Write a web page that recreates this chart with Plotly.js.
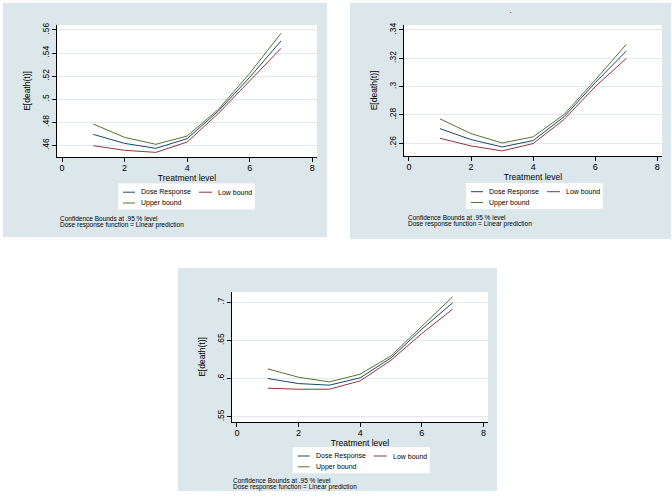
<!DOCTYPE html>
<html>
<head>
<meta charset="utf-8">
<script src="https://cdn.plot.ly/plotly-3.0.1.min.js"></script>
<style>
  body { margin: 0; background: #ffffff; }
  #page { position: relative; width: 672px; height: 497px; }
  .panel { position: absolute; }
</style>
</head>
<body>
<div id="page">
  <div id="panel1" class="panel" style="left:3px; top:3px; width:324px; height:234px;"></div>
  <div id="panel2" class="panel" style="left:350px; top:3px; width:321px; height:236px;"></div>
  <div id="panel3" class="panel" style="left:178px; top:268px; width:319px; height:223px;"></div>
</div>
<script>
// Данные
const treatLevels = [1, 2, 3, 4, 5, 6, 7];
const seriesNames = ["Dose Response", "Low bound", "Upper bound"];

// верхний левый график
const dose1 = [0.4695, 0.4617, 0.4574, 0.4658, 0.4898, 0.5190, 0.5505];
const low1 = [0.4597, 0.4557, 0.4539, 0.4629, 0.4877, 0.5161, 0.5441];
const up1 = [0.4785, 0.4669, 0.4609, 0.4681, 0.4912, 0.5224, 0.5571];

// верхний правый график
const dose2 = [0.2703, 0.2626, 0.2574, 0.2619, 0.2788, 0.3028, 0.3251];
const low2 = [0.2635, 0.2581, 0.2546, 0.2598, 0.2769, 0.3000, 0.3199];
const up2 = [0.2772, 0.2668, 0.2602, 0.2645, 0.2804, 0.3047, 0.3298];

// нижний график
const dose3 = [0.6000, 0.5934, 0.5913, 0.6009, 0.6271, 0.6647, 0.6992];
const low3 = [0.5873, 0.5860, 0.5860, 0.5969, 0.6240, 0.6590, 0.6909];
const up3 = [0.6127, 0.6017, 0.5956, 0.6057, 0.6297, 0.6690, 0.7071];

const xTicks = [0, 2, 4, 6, 8];
const yTicks1 = [0.46, 0.48, 0.5, 0.52, 0.54, 0.56];
const yLabels1 = [".46", ".48", ".5", ".52", ".54", ".56"];
const yTicks2 = [0.26, 0.28, 0.3, 0.32, 0.34];
const yLabels2 = [".26", ".28", ".3", ".32", ".34"];
const yTicks3 = [0.55, 0.6, 0.65, 0.7];
const yLabels3 = [".55", ".6", ".65", ".7"];

const noteLines = [
  "Confidence Bounds at .95 % level",
  "Dose response function = Linear prediction",
];

// Стиль
const FONT = "Liberation Sans, Arial, sans-serif";
const PANEL_BG = "#dce7eb";
const GRID_COLOR = "#e2e9ec";
const lineColors = ["#1a476f", "#90353b", "#55752f"];

// Раскладка легенды в стиле Stata (смещения в пикселях от левого верхнего угла рамки)
const LEGEND_W = 137;
const LEGEND_H = 26;
const legendSlots = [
  { x0: 5, x1: 17, tx: 22, y: 8.7 },   // Dose Response
  { x0: 81, x1: 94, tx: 99, y: 8.7 },  // Low bound
  { x0: 5, x1: 17, tx: 22, y: 19.5 },  // Upper bound
];

/**
 * Перевод пикселей панели в координаты paper
 */
function toPaper(opts, px, py) {
  const w = opts.width - opts.margin.l - opts.margin.r;
  const h = opts.height - opts.margin.t - opts.margin.b;
  return {
    x: (px - opts.margin.l) / w,
    y: 1 - (py - opts.margin.t) / h,
  };
}

/**
 * Рисует одну панель
 */
function drawPanel(divId, dose, low, up, yTicks, yLabels, yRange, opts) {
  const seriesValues = [dose, low, up];

  const traces = seriesValues.map((vals, i) => ({
    x: treatLevels,
    y: vals,
    name: seriesNames[i],
    type: "scatter",
    mode: "lines",
    line: { color: lineColors[i], width: 1 },
    hoverinfo: "skip",
  }));

  // легенда: белая рамка, короткие линии и подписи
  const shapes = [];
  const annotations = [];
  const boxA = toPaper(opts, opts.legendX, opts.legendY);
  const boxB = toPaper(opts, opts.legendX + LEGEND_W, opts.legendY + LEGEND_H);
  shapes.push({
    type: "rect",
    xref: "paper",
    yref: "paper",
    x0: boxA.x,
    x1: boxB.x,
    y0: boxA.y,
    y1: boxB.y,
    fillcolor: "#ffffff",
    line: { width: 0 },
  });

  legendSlots.forEach((slot, i) => {
    const a = toPaper(opts, opts.legendX + slot.x0, opts.legendY + slot.y);
    const b = toPaper(opts, opts.legendX + slot.x1, opts.legendY + slot.y);
    const t = toPaper(opts, opts.legendX + slot.tx, opts.legendY + slot.y);
    shapes.push({
      type: "line",
      xref: "paper",
      yref: "paper",
      x0: a.x,
      x1: b.x,
      y0: a.y,
      y1: b.y,
      line: { color: lineColors[i], width: 1 },
    });
    annotations.push({
      xref: "paper",
      yref: "paper",
      x: t.x,
      y: t.y,
      xanchor: "left",
      yanchor: "middle",
      showarrow: false,
      borderpad: 0,
      text: seriesNames[i],
      font: { family: FONT, size: 7, color: "#000000" },
    });
  });

  // примечания снизу
  noteLines.forEach((line, i) => {
    const p = toPaper(opts, opts.noteX, opts.noteY + i * 6.5);
    annotations.push({
      xref: "paper",
      yref: "paper",
      x: p.x,
      y: p.y,
      xanchor: "left",
      yanchor: "middle",
      align: "left",
      showarrow: false,
      borderpad: 0,
      text: line,
      font: { family: FONT, size: 6.5, color: "#000000" },
    });
  });

  const layout = {
    width: opts.width,
    height: opts.height,
    margin: opts.margin,
    paper_bgcolor: PANEL_BG,
    plot_bgcolor: "#ffffff",
    font: { family: FONT, color: "#000000", size: 8 },
    showlegend: false,
    xaxis: {
      range: [-0.16, 8.15],
      tickvals: xTicks,
      ticktext: xTicks.map(String),
      ticks: "outside",
      ticklen: 4,
      tickcolor: "#000000",
      ticklabelstandoff: -2,
      showline: true,
      linecolor: "#000000",
      linewidth: 1,
      showgrid: false,
      zeroline: false,
      tickfont: { size: 9 },
      title: { text: "Treatment level", font: { size: 8.5 }, standoff: 0 },
      fixedrange: true,
    },
    yaxis: {
      range: yRange,
      tickvals: yTicks,
      ticktext: yLabels,
      tickangle: -90,
      ticks: "outside",
      ticklen: 4,
      tickcolor: "#000000",
      showline: true,
      linecolor: "#000000",
      linewidth: 1,
      showgrid: true,
      gridcolor: GRID_COLOR,
      gridwidth: 1,
      zeroline: false,
      tickfont: { size: 8.5 },
      title: { text: "E[death(t)]", font: { size: 8.5 }, standoff: 8 },
      fixedrange: true,
    },
    shapes: shapes,
    annotations: annotations,
  };

  if (opts.title) {
    layout.title = {
      text: opts.title,
      font: { size: 8 },
      x: 0.5,
      xanchor: "center",
      y: 0.98,
      yanchor: "top",
    };
  }

  Plotly.newPlot(divId, traces, layout, { staticPlot: true, displayModeBar: false });
}

drawPanel("panel1", dose1, low1, up1, yTicks1, yLabels1, [0.4499, 0.5643], {
  width: 324,
  height: 234,
  margin: { l: 54, r: 10, t: 22, b: 80 },
  legendX: 115,
  legendY: 180.5,
  noteX: 56,
  noteY: 215,
});

drawPanel("panel2", dose2, low2, up2, yTicks2, yLabels2, [0.251, 0.3435], {
  width: 321,
  height: 236,
  margin: { l: 54, r: 9, t: 22, b: 83 },
  legendX: 116,
  legendY: 180,
  noteX: 57,
  noteY: 214,
  title: ".",
});

drawPanel("panel3", dose3, low3, up3, yTicks3, yLabels3, [0.543, 0.7135], {
  width: 319,
  height: 223,
  margin: { l: 54, r: 9, t: 24, b: 69 },
  legendX: 114.7,
  legendY: 179.3,
  noteX: 54.3,
  noteY: 212.5,
});
</script>
</body>
</html>
